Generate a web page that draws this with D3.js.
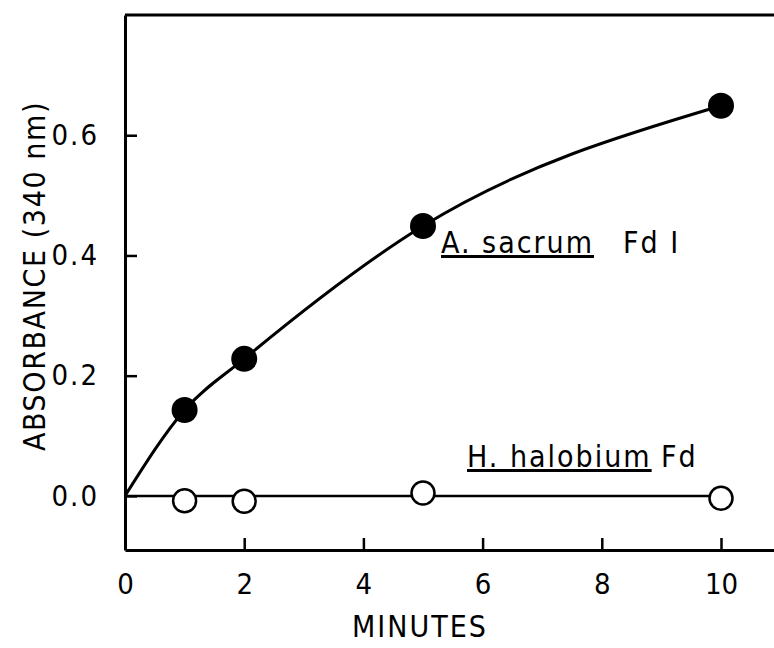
<!DOCTYPE html>
<html>
<head>
<meta charset="utf-8">
<script src="https://cdn.jsdelivr.net/npm/d3@7"></script>
<style>
  body { margin: 0; background: #fff; }
  svg { display: block; }
  text { font-family: "DejaVu Sans Condensed", "Liberation Sans Narrow", "DejaVu Sans", sans-serif; fill: #000; }
</style>
</head>
<body>
<svg width="774" height="648"></svg>
<script>
const width = 774;
const height = 648;

// data
const minutes = [1, 2, 5, 10];
const sacrum = [0.143, 0.228, 0.449, 0.649];
const halobium = [-0.008, -0.009, 0.005, -0.004];
const xTicks = [0, 2, 4, 6, 8, 10];
const yTicks = [0.0, 0.2, 0.4, 0.6];

const svg = d3.select("svg");

const x = d3.scaleLinear().domain([0, 10.99]).range([125, 780]);
const y = d3.scaleLinear().domain([-0.09, 0.8]).range([550, 15]);

//--------------------axes--------------------
const xAxis = d3.axisBottom(x)
    .tickValues(xTicks)
    .tickFormat(d3.format("d"))
    .tickSize(-12)
    .tickPadding(23)
    .tickSizeOuter(0);

const yAxis = d3.axisLeft(y)
    .tickValues(yTicks)
    .tickFormat(d3.format(".1f"))
    .tickSize(-12)
    .tickPadding(26)
    .tickSizeOuter(0);

const gx = svg.append("g")
    .attr("transform", "translate(0," + y.range()[0] + ")")
    .call(xAxis);

const gy = svg.append("g")
    .attr("transform", "translate(" + x.range()[0] + ",0)")
    .call(yAxis);

[gx, gy].forEach(g => {
    g.select(".domain").attr("stroke", "#000").attr("stroke-width", 3);
    g.selectAll(".tick line").attr("stroke", "#000").attr("stroke-width", 2.5);
    g.selectAll(".tick text")
        .attr("font-size", 29)
        .attr("font-family", "\"DejaVu Sans Condensed\", \"DejaVu Sans\", sans-serif");
});
gy.selectAll(".tick text").attr("letter-spacing", 2);

// top frame line
svg.append("line")
    .attr("x1", x.range()[0])
    .attr("x2", x.range()[1])
    .attr("y1", y.range()[1])
    .attr("y2", y.range()[1])
    .attr("stroke", "#000")
    .attr("stroke-width", 3);

//--------------------axis titles--------------------
svg.append("text")
    .attr("transform", "translate(45,276) rotate(-90)")
    .attr("text-anchor", "middle")
    .attr("font-size", 30)
    .attr("letter-spacing", 1.6)
    .text("ABSORBANCE (340 nm)");

svg.append("text")
    .attr("x", 420)
    .attr("y", 637)
    .attr("text-anchor", "middle")
    .attr("font-size", 30)
    .attr("letter-spacing", 2)
    .text("MINUTES");

//--------------------curves--------------------
const line = d3.line()
    .x(d => x(d[0]))
    .y(d => y(d[1]))
    .curve(d3.curveMonotoneX);

const sacrumPts = [[0, 0]].concat(minutes.map((m, i) => [m, sacrum[i]]));

svg.append("path")
    .datum(sacrumPts)
    .attr("d", line)
    .attr("fill", "none")
    .attr("stroke", "#000")
    .attr("stroke-width", 3);

// H. halobium stays on the baseline
svg.append("path")
    .datum([0, d3.max(minutes)])
    .attr("d", d3.line().x(d => x(d)).y(() => y(0)))
    .attr("fill", "none")
    .attr("stroke", "#000")
    .attr("stroke-width", 2.5);

//--------------------markers--------------------
svg.append("g")
    .selectAll("circle")
    .data(minutes)
    .enter()
    .append("circle")
    .attr("cx", d => x(d))
    .attr("cy", (d, i) => y(sacrum[i]))
    .attr("r", 13)
    .attr("fill", "#000");

svg.append("g")
    .selectAll("circle")
    .data(minutes)
    .enter()
    .append("circle")
    .attr("cx", d => x(d))
    .attr("cy", (d, i) => y(halobium[i]))
    .attr("r", 11.5)
    .attr("fill", "#fff")
    .attr("stroke", "#000")
    .attr("stroke-width", 2.5);

//--------------------series labels--------------------
function label(px, py, txt, underline) {
    svg.append("text")
        .attr("x", px)
        .attr("y", py)
        .attr("font-size", 30)
        .attr("letter-spacing", 2)
        .style("text-decoration", underline ? "underline" : "none")
        .text(txt);
}

label(441, 253, "A. sacrum", true);
label(623, 253, "Fd I", false);
label(467, 467, "H. halobium", true);
label(661, 467, "Fd", false);
</script>
</body>
</html>
